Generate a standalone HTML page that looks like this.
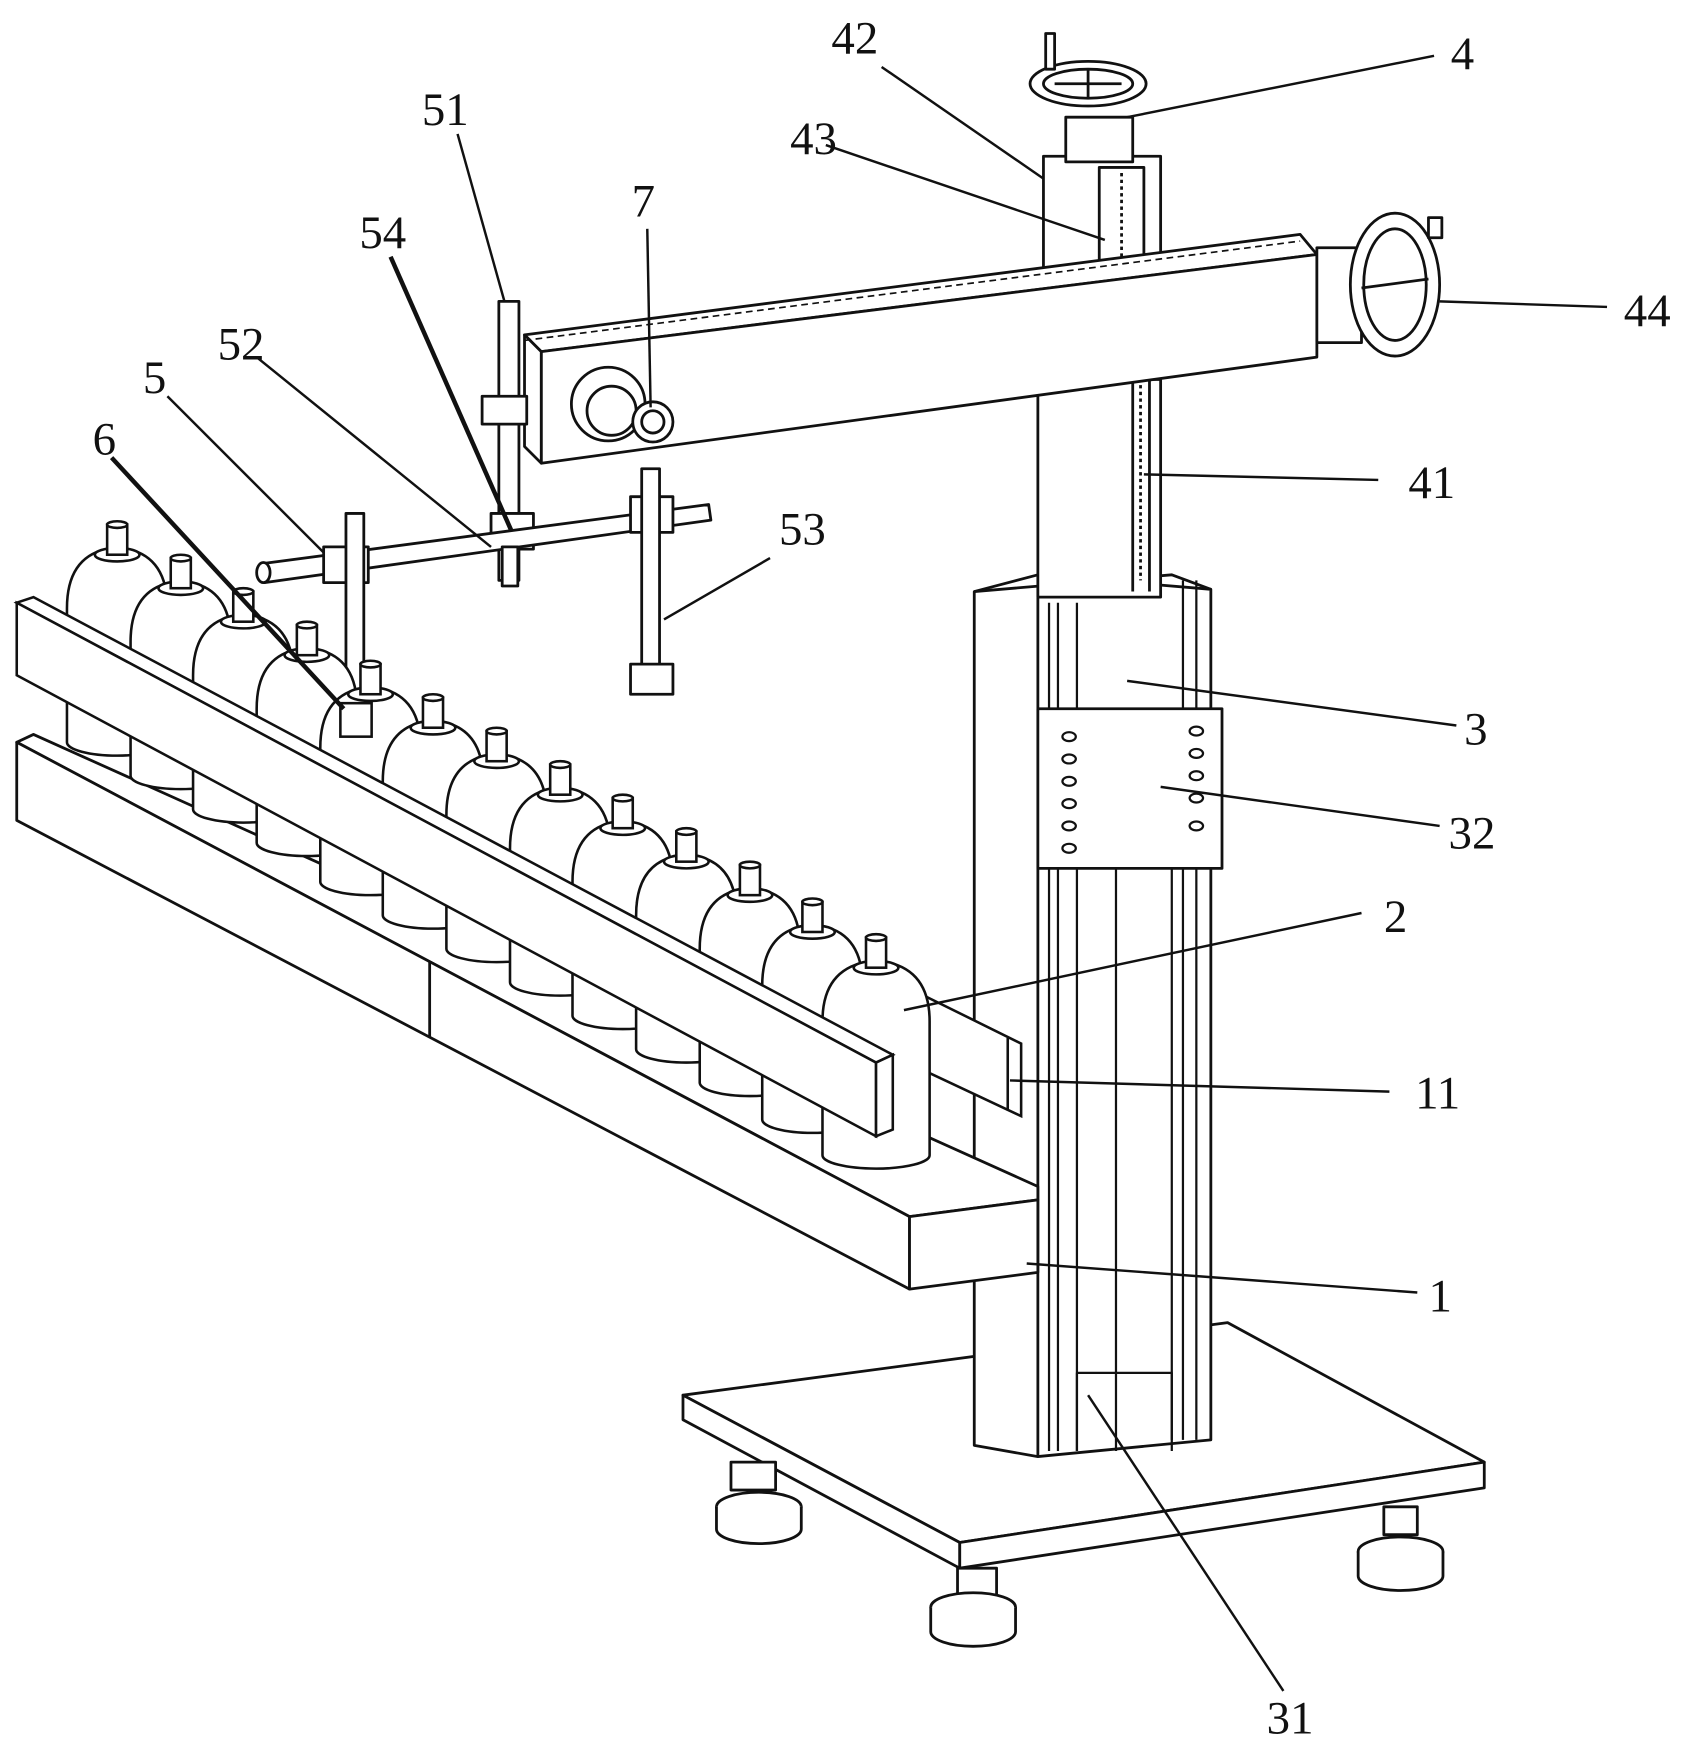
<!DOCTYPE html>
<html><head><meta charset="utf-8"><style>
html,body{margin:0;padding:0;background:#fff;}
svg{display:block;}
text{font-family:"Liberation Serif","DejaVu Serif",serif;font-size:42px;fill:#111;}
</style></head><body>
<svg width="1703" height="1749" viewBox="0 0 1526 1567" preserveAspectRatio="none" xmlns="http://www.w3.org/2000/svg">
<g fill="#fff" stroke="#111" stroke-width="2.5" stroke-linejoin="round">
<!-- base plate -->
<polygon points="612,1250 1100,1185 1330,1310 860,1382"/>
<polygon points="612,1250 860,1382 860,1405 612,1272"/>
<polygon points="860,1382 1330,1310 1330,1333 860,1405"/>
<!-- feet -->
<g>
<rect x="655" y="1310" width="40" height="25"/><ellipse cx="680" cy="1350" rx="38" ry="13"/><rect x="642" y="1350" width="76" height="20" stroke="none"/><path d="M642,1350 V1370 A38,13 0 0 0 718,1370 V1350" />
<rect x="1240" y="1350" width="30" height="25"/><ellipse cx="1255" cy="1390" rx="38" ry="13"/><path d="M1217,1390 V1412 A38,13 0 0 0 1293,1412 V1390"/>
<rect x="858" y="1405" width="35" height="25"/><ellipse cx="872" cy="1440" rx="38" ry="13"/><path d="M834,1440 V1462 A38,13 0 0 0 910,1462 V1440"/>
</g>
<!-- lower column -->
<polygon points="873,530 930,515 1085,528 1085,1290 930,1305 873,1295"/>
<polyline points="930,515 930,1305" fill="none"/>
<polyline points="873,530 1050,515 1085,528" fill="none"/>
<g fill="none" stroke-width="2">
<line x1="940" y1="540" x2="940" y2="1300"/><line x1="948" y1="540" x2="948" y2="1300"/>
<line x1="965" y1="540" x2="965" y2="1300"/><line x1="1000" y1="760" x2="1000" y2="1300"/>
<line x1="1050" y1="760" x2="1050" y2="1300"/><line x1="1060" y1="520" x2="1060" y2="1290"/><line x1="1072" y1="520" x2="1072" y2="1290"/>
<polyline points="965,1300 965,1230 1050,1230 1050,1290"/>
</g>
<!-- upper column -->
<rect x="930" y="340" width="110" height="195"/>
<line x1="1015" y1="340" x2="1015" y2="530"/><line x1="1030" y1="340" x2="1030" y2="530"/>
<line x1="1022" y1="345" x2="1022" y2="520" stroke-dasharray="3,3"/>
<!-- plate 32 -->
<rect x="930" y="635" width="165" height="143"/>
<g fill="none" stroke-width="2">
<ellipse cx="958" cy="660" rx="6" ry="4"/><ellipse cx="958" cy="680" rx="6" ry="4"/><ellipse cx="958" cy="700" rx="6" ry="4"/><ellipse cx="958" cy="720" rx="6" ry="4"/><ellipse cx="958" cy="740" rx="6" ry="4"/><ellipse cx="958" cy="760" rx="6" ry="4"/>
<ellipse cx="1072" cy="655" rx="6" ry="4"/><ellipse cx="1072" cy="675" rx="6" ry="4"/><ellipse cx="1072" cy="695" rx="6" ry="4"/><ellipse cx="1072" cy="715" rx="6" ry="4"/><ellipse cx="1072" cy="740" rx="6" ry="4"/>
</g>
<!-- top column part -->
<rect x="935" y="140" width="105" height="100"/>
<rect x="985" y="150" width="40" height="85"/>
<line x1="1005" y1="155" x2="1005" y2="230" stroke-dasharray="3,3"/>
<rect x="955" y="105" width="60" height="40"/>
<ellipse cx="975" cy="75" rx="52" ry="20"/><ellipse cx="975" cy="75" rx="40" ry="13"/>
<line x1="975" y1="62" x2="975" y2="88"/><line x1="945" y1="75" x2="1005" y2="75"/>
<rect x="937" y="30" width="8" height="32"/>
<!-- arm -->
<polygon points="470,300 1165,210 1180,228 485,315"/>
<polygon points="485,315 1180,228 1180,320 485,415"/>
<polygon points="470,300 485,315 485,415 470,400"/>
<line x1="470" y1="305" x2="1165" y2="216" stroke-dasharray="6,4" stroke-width="1.5"/>
<rect x="1180" y="222" width="40" height="85"/>
<ellipse cx="1250" cy="255" rx="40" ry="64"/><ellipse cx="1250" cy="255" rx="28" ry="50"/>
<line x1="1220" y1="258" x2="1280" y2="250"/><rect x="1280" y="195" width="12" height="18"/>
<circle cx="545" cy="362" r="33"/><circle cx="548" cy="368" r="22"/><circle cx="585" cy="378" r="18"/><circle cx="585" cy="378" r="10"/>
<!-- rod 51 -->
<rect x="447" y="270" width="18" height="250"/>
<rect x="432" y="355" width="40" height="25"/>
<rect x="440" y="460" width="38" height="32"/>
<!-- crossbar 52 -->
<polygon points="235,505 635,452 637,466 237,522"/>
<ellipse cx="236" cy="513" rx="6" ry="9"/>
<rect x="290" y="490" width="40" height="32"/>
<rect x="310" y="460" width="16" height="170"/>
<rect x="300" y="630" width="34" height="30"/>
<rect x="565" y="445" width="38" height="32"/>
<rect x="575" y="420" width="16" height="180"/>
<rect x="565" y="595" width="38" height="27"/>
<rect x="450" y="490" width="14" height="35"/>
<!-- lower conveyor bar -->
<polygon points="15,665 30,658 930,1063 930,1075 815,1090"/>
<polygon points="15,665 815,1090 815,1155 15,735"/>
<polygon points="815,1090 930,1075 930,1140 815,1155"/>
<line x1="385" y1="862" x2="385" y2="930"/>
</g>
<!-- bottles -->
<g fill="#fff" stroke="#111" stroke-width="2.5" id="bottles">
<script>/* static */</script>
</g>
<g fill="#fff" stroke="#111" stroke-width="2.3">
<g transform="translate(105,470)"><path d="M-45,75 Q-45,30 -10,22 H10 Q45,30 45,75 V195 A45,12 0 0 1 -45,195 Z"/><ellipse cx="0" cy="27" rx="20" ry="6"/><rect x="-9" y="0" width="18" height="27"/><ellipse cx="0" cy="0" rx="9" ry="3"/></g>
<g transform="translate(162,500)"><path d="M-45,75 Q-45,30 -10,22 H10 Q45,30 45,75 V195 A45,12 0 0 1 -45,195 Z"/><ellipse cx="0" cy="27" rx="20" ry="6"/><rect x="-9" y="0" width="18" height="27"/><ellipse cx="0" cy="0" rx="9" ry="3"/></g>
<g transform="translate(218,530)"><path d="M-45,75 Q-45,30 -10,22 H10 Q45,30 45,75 V195 A45,12 0 0 1 -45,195 Z"/><ellipse cx="0" cy="27" rx="20" ry="6"/><rect x="-9" y="0" width="18" height="27"/><ellipse cx="0" cy="0" rx="9" ry="3"/></g>
<g transform="translate(275,560)"><path d="M-45,75 Q-45,30 -10,22 H10 Q45,30 45,75 V195 A45,12 0 0 1 -45,195 Z"/><ellipse cx="0" cy="27" rx="20" ry="6"/><rect x="-9" y="0" width="18" height="27"/><ellipse cx="0" cy="0" rx="9" ry="3"/></g>
<g transform="translate(332,595)"><path d="M-45,75 Q-45,30 -10,22 H10 Q45,30 45,75 V195 A45,12 0 0 1 -45,195 Z"/><ellipse cx="0" cy="27" rx="20" ry="6"/><rect x="-9" y="0" width="18" height="27"/><ellipse cx="0" cy="0" rx="9" ry="3"/></g>
<g transform="translate(388,625)"><path d="M-45,75 Q-45,30 -10,22 H10 Q45,30 45,75 V195 A45,12 0 0 1 -45,195 Z"/><ellipse cx="0" cy="27" rx="20" ry="6"/><rect x="-9" y="0" width="18" height="27"/><ellipse cx="0" cy="0" rx="9" ry="3"/></g>
<g transform="translate(445,655)"><path d="M-45,75 Q-45,30 -10,22 H10 Q45,30 45,75 V195 A45,12 0 0 1 -45,195 Z"/><ellipse cx="0" cy="27" rx="20" ry="6"/><rect x="-9" y="0" width="18" height="27"/><ellipse cx="0" cy="0" rx="9" ry="3"/></g>
<g transform="translate(502,685)"><path d="M-45,75 Q-45,30 -10,22 H10 Q45,30 45,75 V195 A45,12 0 0 1 -45,195 Z"/><ellipse cx="0" cy="27" rx="20" ry="6"/><rect x="-9" y="0" width="18" height="27"/><ellipse cx="0" cy="0" rx="9" ry="3"/></g>
<g transform="translate(558,715)"><path d="M-45,75 Q-45,30 -10,22 H10 Q45,30 45,75 V195 A45,12 0 0 1 -45,195 Z"/><ellipse cx="0" cy="27" rx="20" ry="6"/><rect x="-9" y="0" width="18" height="27"/><ellipse cx="0" cy="0" rx="9" ry="3"/></g>
<g transform="translate(615,745)"><path d="M-45,75 Q-45,30 -10,22 H10 Q45,30 45,75 V195 A45,12 0 0 1 -45,195 Z"/><ellipse cx="0" cy="27" rx="20" ry="6"/><rect x="-9" y="0" width="18" height="27"/><ellipse cx="0" cy="0" rx="9" ry="3"/></g>
<g transform="translate(672,775)"><path d="M-45,75 Q-45,30 -10,22 H10 Q45,30 45,75 V195 A45,12 0 0 1 -45,195 Z"/><ellipse cx="0" cy="27" rx="20" ry="6"/><rect x="-9" y="0" width="18" height="27"/><ellipse cx="0" cy="0" rx="9" ry="3"/></g>
<g transform="translate(728,808)"><path d="M-45,75 Q-45,30 -10,22 H10 Q45,30 45,75 V195 A45,12 0 0 1 -45,195 Z"/><ellipse cx="0" cy="27" rx="20" ry="6"/><rect x="-9" y="0" width="18" height="27"/><ellipse cx="0" cy="0" rx="9" ry="3"/></g>
<!-- back part of rail right of last bottle -->
<polygon points="830,893 915,935 915,1000 830,960"/>
<line x1="903" y1="930" x2="903" y2="995"/>
<g transform="translate(785,840)"><path d="M-48,75 Q-48,30 -10,22 H10 Q48,30 48,75 V195 A48,12 0 0 1 -48,195 Z"/><ellipse cx="0" cy="27" rx="20" ry="6"/><rect x="-9" y="0" width="18" height="27"/><ellipse cx="0" cy="0" rx="9" ry="3"/></g>
<!-- front rail board -->
<polygon points="15,540 30,535 800,945 785,952"/>
<polygon points="15,540 785,952 785,1018 15,605"/>
<polygon points="785,952 800,945 800,1012 785,1018"/>
<!-- clamp 6 in front -->
<rect x="305" y="630" width="28" height="30"/>
</g>
<!-- leader lines -->
<g stroke="#111" stroke-width="2.2" fill="none">
<line x1="1285" y1="50" x2="1010" y2="105"/>
<line x1="790" y1="60" x2="935" y2="160"/>
<line x1="740" y1="130" x2="990" y2="215"/>
<line x1="1440" y1="275" x2="1290" y2="270"/>
<line x1="410" y1="120" x2="452" y2="270"/>
<line x1="350" y1="230" x2="458" y2="475" stroke-width="4"/>
<line x1="580" y1="205" x2="583" y2="365"/>
<line x1="230" y1="320" x2="440" y2="490"/>
<line x1="150" y1="355" x2="290" y2="495"/>
<line x1="100" y1="410" x2="308" y2="635" stroke-width="4"/>
<line x1="690" y1="500" x2="595" y2="555"/>
<line x1="1235" y1="430" x2="1025" y2="425"/>
<line x1="1305" y1="650" x2="1010" y2="610"/>
<line x1="1290" y1="740" x2="1040" y2="705"/>
<line x1="1220" y1="818" x2="810" y2="905"/>
<line x1="1245" y1="978" x2="905" y2="968"/>
<line x1="1270" y1="1158" x2="920" y2="1132"/>
<line x1="1150" y1="1515" x2="975" y2="1250"/>
</g>
<g>
<text x="1300" y="62">4</text>
<text x="745" y="48">42</text>
<text x="708" y="138">43</text>
<text x="1455" y="292">44</text>
<text x="378" y="112">51</text>
<text x="322" y="222">54</text>
<text x="566" y="194">7</text>
<text x="195" y="322">52</text>
<text x="128" y="352">5</text>
<text x="83" y="407">6</text>
<text x="698" y="488">53</text>
<text x="1262" y="446">41</text>
<text x="1312" y="667">3</text>
<text x="1298" y="760">32</text>
<text x="1240" y="835">2</text>
<text x="1268" y="993">11</text>
<text x="1280" y="1175">1</text>
<text x="1135" y="1553">31</text>
</g>
</svg>
</body></html>
